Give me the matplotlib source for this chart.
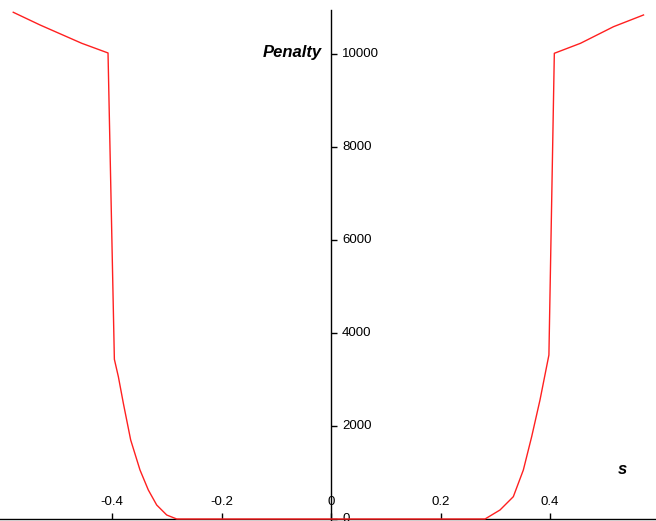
import numpy as np
from matplotlib import pyplot as plt

plt.rcParams['font.family'] = ['Liberation Sans', 'DejaVu Sans']

# left branch, from the left edge down to zero
s_left = [-0.5804, -0.5315, -0.4553, -0.4073, -0.3957, -0.3884, -0.3793,
          -0.3659, -0.3489, -0.3337, -0.3184, -0.3001, -0.2818]
p_left = [10897, 10624, 10230, 10022, 3434, 3060, 2488,
          1699, 1054, 624, 301, 86, 0]

# right branch, from zero up to the right edge
s_right = [0.2813, 0.3087, 0.3330, 0.3513, 0.3665, 0.3817, 0.3980,
           0.4079, 0.4557, 0.5160, 0.5708]
p_right = [0, 194, 480, 1054, 1770, 2559, 3527,
           10015, 10230, 10587, 10839]

s_all = s_left + s_right
p_all = p_left + p_right

x_ticks = [-0.4, -0.2, 0, 0.2, 0.4]
x_labels = ['-0.4', '-0.2', '0', '0.2', '0.4']
y_ticks = [0, 2000, 4000, 6000, 8000, 10000]


fig = plt.figure(figsize=(6.56, 5.21), dpi=100)
ax = fig.add_axes([0, 0, 1, 1])

ax.plot(s_all, p_all, color='#ff2020', linewidth=1.0, zorder=3)

ax.set_xlim(-0.6046, 0.5936)
ax.set_ylim(-43, 11161)

# axes through the origin, Maple style
ax.spines['left'].set_visible(False)
ax.spines['bottom'].set_visible(False)
ax.spines['right'].set_position(('data', 0))
ax.spines['top'].set_position(('data', 0))
ax.spines['right'].set_bounds(-43, 10950)
for sp in ['right', 'top']:
    ax.spines[sp].set_linewidth(1.0)
    ax.spines[sp].set_color('black')

ax.yaxis.set_ticks_position('right')
ax.xaxis.set_ticks_position('top')
ax.set_yticks(y_ticks)
ax.set_yticklabels([str(v) for v in y_ticks])
ax.set_xticks(x_ticks)
ax.set_xticklabels(x_labels)
ax.tick_params(axis='both', direction='out', length=4, width=1.0,
               labelsize=9.5, colors='black')
ax.tick_params(axis='y', pad=4)
ax.tick_params(axis='x', pad=4)
for lab in ax.get_yticklabels():
    lab.set_verticalalignment('center')

ax.text(-0.016, 10040, 'Penalty', ha='right', va='center',
        fontsize=12, fontweight='bold', fontstyle='italic')
ax.text(0.5315, 1054, 's', ha='center', va='center',
        fontsize=12, fontweight='bold', fontstyle='italic')

plt.savefig('out.png', dpi=100)
